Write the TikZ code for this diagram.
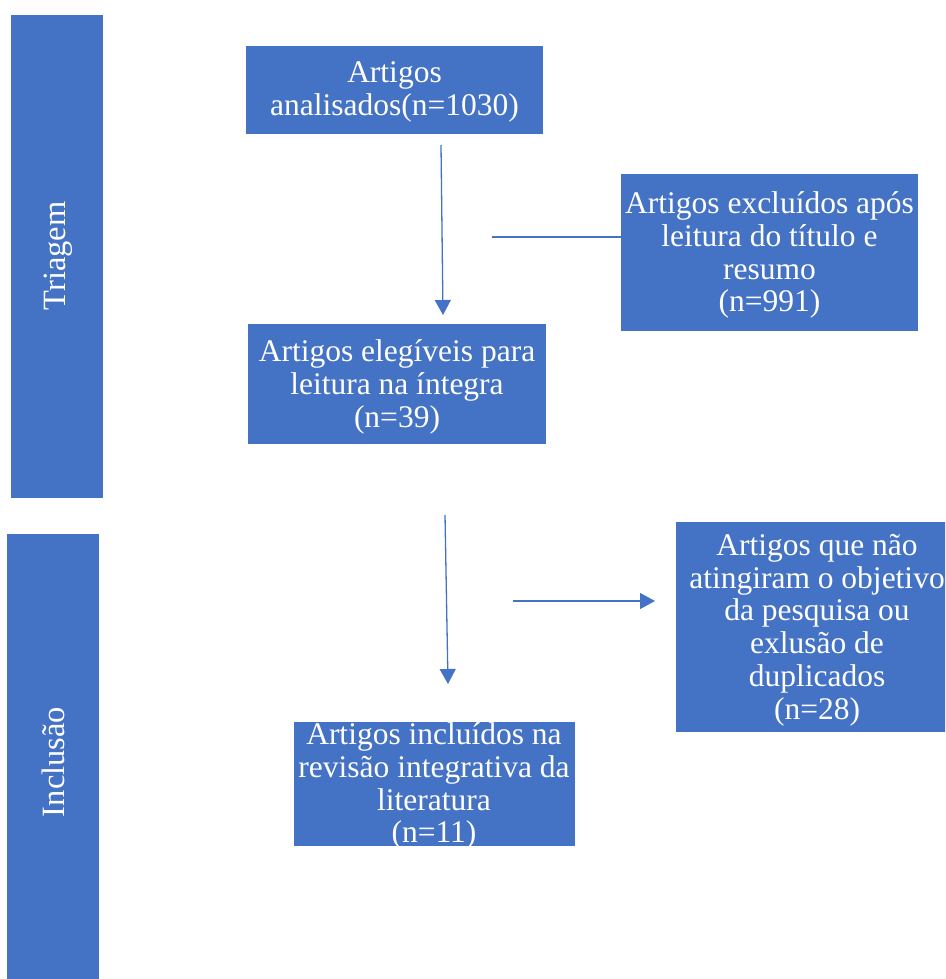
\documentclass[tikz,border=0pt]{standalone}
\usepackage{fontspec}
\setmainfont{Liberation Serif}
\usetikzlibrary{arrows.meta}
\definecolor{boxblue}{HTML}{4472C4}
\tikzset{
  box/.style={fill=boxblue, draw=none, inner sep=0pt},
  txt/.style={text=white, align=center, inner sep=0pt,
    font=\fontsize{31.5}{32.8}\selectfont},
  bar/.style={fill=boxblue, draw=none},
  vlabel/.style={text=white, rotate=90, font=\fontsize{32.5}{33}\selectfont, inner sep=0pt},
  conn/.style={draw=boxblue, line width=1.3pt},
  arr/.style={conn, -{Triangle[width=16pt,length=15pt]}}
}
\begin{document}
\begin{tikzpicture}[x=1pt,y=-1pt]
\useasboundingbox (0,0) rectangle (945,979);
\clip (0,0) rectangle (945,979);
% side bars
\node[bar, minimum width=92pt, minimum height=483pt] (tri) at (57,256.5) {};
\node[vlabel] (trit) at (58,256) {Triagem};
\node[bar, minimum width=92pt, minimum height=446pt] (inc) at (53,757) {};
\node[vlabel] (inct) at (53,762) {Inclusão};
% boxes
\node[box, minimum width=297pt, minimum height=88pt] (b1) at (394.5,90) {};
\node[txt] (t1) at (394.5,92) {Artigos\\analisados(n=1030)};
\node[box, minimum width=297pt, minimum height=157pt] (b2) at (769.5,252.5) {};
\node[txt] (t2) at (769.5,255) {Artigos excluídos após\\leitura do título e\\resumo\\(n=991)};
\node[box, minimum width=298pt, minimum height=120pt] (b3) at (397,384) {};
\node[txt] (t3) at (397,387) {Artigos elegíveis para\\leitura na íntegra\\(n=39)};
\node[box, minimum width=282pt, minimum height=210pt] (b4) at (817,627) {};
\node[txt] (t4) at (817,630) {Artigos que não\\atingiram o objetivo\\da pesquisa ou\\exlusão de\\duplicados\\(n=28)};
\node[box, minimum width=281pt, minimum height=124pt] (b5) at (434,784) {};
\node[txt] (t5) at (434,786) {Artigos incluídos na\\revisão integrativa da\\literatura\\(n=11)};
% connectors
\coordinate (a1s) at (441,145);
\coordinate (a1e) at (443,315);
\coordinate (l1s) at (492,237);
\coordinate (a2s) at (445,515);
\coordinate (a2e) at (448,684);
\coordinate (a3s) at (513,601);
\coordinate (a3e) at (655,601);
\draw[arr] (a1s) -- (a1e);
\draw[conn] (l1s) -- (b2.west |- l1s);
\draw[arr] (a2s) -- (a2e);
\draw[arr] (a3s) -- (a3e);
\end{tikzpicture}
\end{document}
